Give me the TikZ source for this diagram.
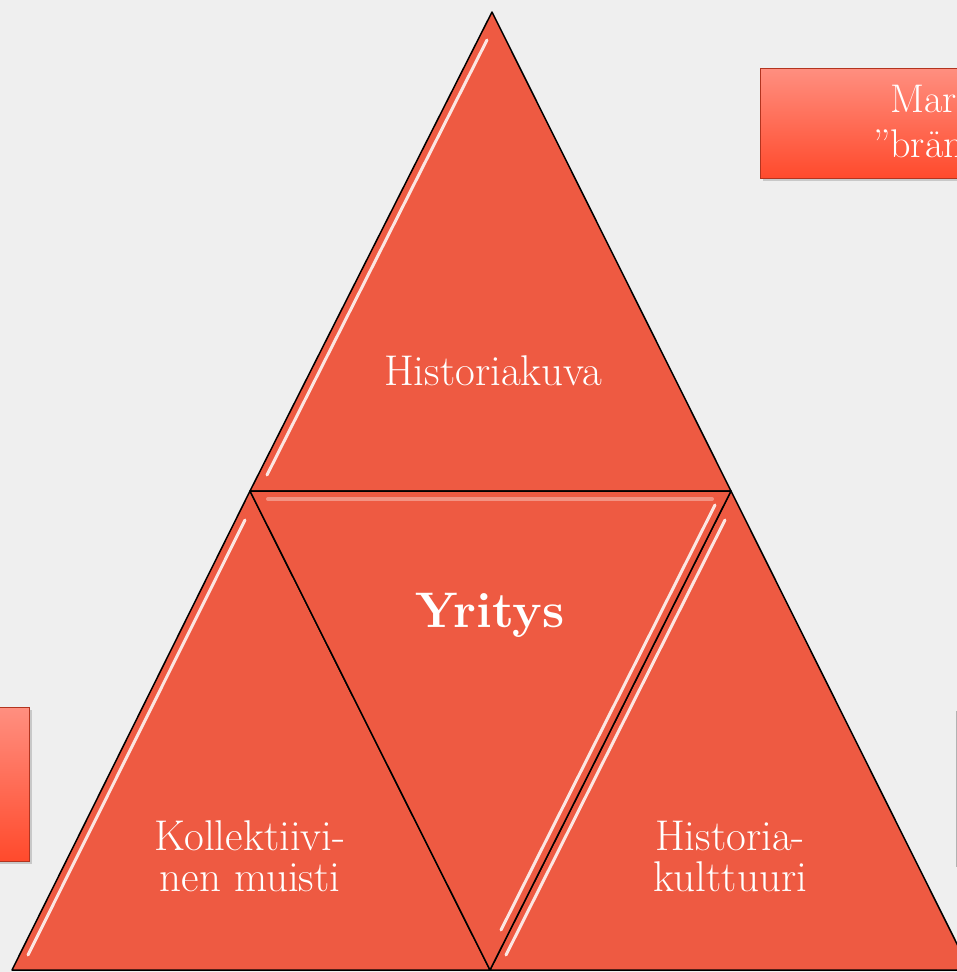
\documentclass[tikz,border=0pt]{standalone}
\usepackage{xcolor}
\usetikzlibrary{shadows}

\definecolor{trired}{HTML}{EE5A42}
\definecolor{boxtop}{HTML}{FF8F80}
\definecolor{boxbot}{HTML}{FF4A2C}
\definecolor{bggray}{HTML}{EFEFEF}

\tikzset{
  tri/.style={fill=trired, draw=black, line width=1.5pt, line join=round},
  gloss/.style={white, line width=3pt, opacity=0.85, line cap=round},
  softgloss/.style={white, line width=4pt, opacity=0.35, line cap=round},
  box/.style={top color=boxtop, bottom color=boxbot, draw=boxbot!70!black,
    line width=0.6pt,
    drop shadow={shadow xshift=3pt, shadow yshift=-3pt, opacity=0.35}},
  lbl/.style={text=white, font=\fontsize{43}{41}\selectfont, align=center, inner sep=0pt}
}

\begin{document}
\begin{tikzpicture}[x=1pt, y=-1pt]
                %% background
                \fill[bggray] (0,0) rectangle (957,972);
                \useasboundingbox (0,0) rectangle (957,972);

                %% corners
                \coordinate (apex) at (492,12);
                \coordinate (midL) at (250,491);
                \coordinate (midR) at (731,491);
                \coordinate (botL) at (12,970);
                \coordinate (botM) at (490,970);
                \coordinate (botR) at (970,970);

                %% side boxes
                \draw[box] (-10,707) rectangle (29,861);
                \draw[box] (760,68) rectangle (975,178);
                \draw[draw=gray!60, line width=2pt] (957,712) rectangle (1000,866);

                \node[lbl, anchor=base west, font=\fontsize{40}{37}\selectfont] (mark1) at (890,112) {Mar};
                \node[lbl, anchor=base west, font=\fontsize{40}{37}\selectfont] (mark2) at (873,157) {”brän};

                %% triangles
                \draw[tri] (apex) -- (midR) -- (midL) -- cycle;
                \draw[tri] (midL) -- (botM) -- (botL) -- cycle;
                \draw[tri] (midR) -- (botR) -- (botM) -- cycle;
                \draw[tri] (midL) -- (midR) -- (botM) -- cycle;

                %gloss
                \draw[gloss] (487,40) -- (267,475);
                \draw[gloss] (245,520) -- (28,955);
                \draw[gloss] (725,520) -- (506,955);
                \draw[gloss] (715,505) -- (501,930);
                \draw[softgloss] (268,499) -- (712,499);

                %% labels
                \node[lbl, anchor=base] (kuva) at (493,385) {Historiakuva};
                \node[lbl, anchor=base, font=\fontsize{50}{50}\selectfont\bfseries] (yritys) at (490,627) {Yritys};
                \node[lbl] (muisti) at (250,856) {Kollektiivi-\\nen muisti};
                \node[lbl] (kulttuuri) at (730,856) {Historia-\\kulttuuri};

\end{tikzpicture}
\end{document}
